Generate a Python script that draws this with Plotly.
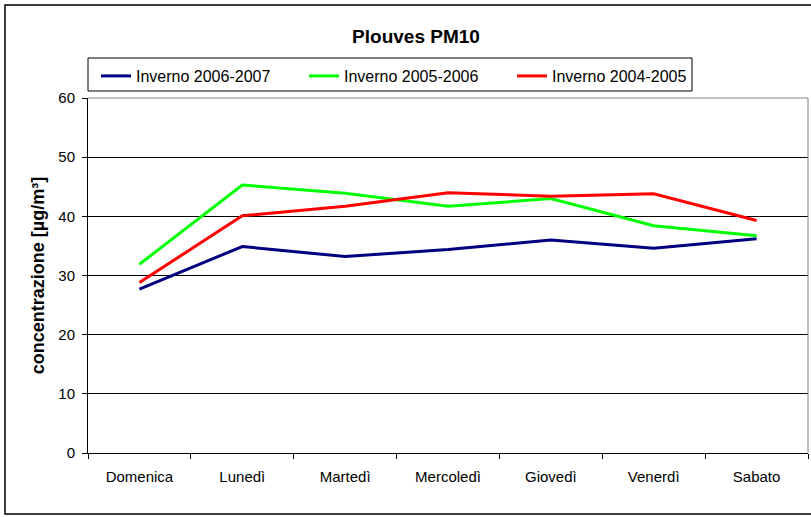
import plotly.graph_objects as go

days = ["Domenica", "Lunedì", "Martedì", "Mercoledì", "Giovedì", "Venerdì", "Sabato"]
inv_2006_2007 = [27.7, 34.9, 33.2, 34.4, 36.0, 34.6, 36.2]
inv_2005_2006 = [31.9, 45.3, 43.9, 41.7, 43.0, 38.4, 36.7]
inv_2004_2005 = [28.8, 40.1, 41.7, 44.0, 43.4, 43.8, 39.3]

series = [
    ("Inverno 2006-2007", inv_2006_2007, "#000080"),
    ("Inverno 2005-2006", inv_2005_2006, "#00FF00"),
    ("Inverno 2004-2005", inv_2004_2005, "#FF0000"),
]

font = "Liberation Sans, Arial, sans-serif"
fig = go.Figure()
for name, vals, col in series:
    fig.add_trace(go.Scatter(x=days, y=vals, name=name, mode="lines",
                             line=dict(color=col, width=3)))

L, R, T, B = 88, 3, 98, 64
W, H = 811, 517
pw, ph = W - L - R, H - T - B

def px(x):
    return (x - L) / pw

def py(y):
    return (H - B - y) / ph

fig.update_layout(
    width=W, height=H,
    margin=dict(l=L, r=R, t=T, b=B, autoexpand=False),
    paper_bgcolor="white", plot_bgcolor="white",
    font=dict(family=font, size=15, color="black"),
    title=dict(text="<b>Plouves PM10</b>", x=416 / W, xanchor="center",
               y=1 - 36 / H, yanchor="middle", font=dict(size=19)),
    showlegend=True,
    legend=dict(orientation="h", x=px(96), xanchor="left", y=py(59), yanchor="top",
                borderwidth=0, bgcolor="rgba(0,0,0,0)",
                font=dict(size=16), entrywidth=163, entrywidthmode="pixels",
                tracegroupgap=0),
    xaxis=dict(range=[-0.5, 6.5], showline=True, linecolor="black", linewidth=1,
               ticks="outside", tickson="boundaries", ticklen=5, tickcolor="black",
               showgrid=False, tickfont=dict(size=15), fixedrange=True,
               automargin=False, ticklabelstandoff=10),
    yaxis=dict(range=[0, 60], dtick=10, showline=True, linecolor="black",
               linewidth=1, ticks="outside", ticklen=5, tickcolor="black",
               showgrid=True, gridcolor="black", gridwidth=1, fixedrange=True,
               zeroline=False, tickfont=dict(size=15), automargin=False,
               ticklabelstandoff=4,
               title=dict(text="<b>concentrazione [µg/m³]</b>", standoff=9,
                          font=dict(size=18))),
    shapes=[
        dict(type="line", xref="paper", yref="paper", x0=0, x1=1, y0=1, y1=1,
             line=dict(color="#808080", width=1)),
        dict(type="line", xref="paper", yref="paper", x0=1, x1=1, y0=0, y1=1,
             line=dict(color="#808080", width=1)),
        dict(type="rect", xref="paper", yref="paper", x0=px(88), x1=px(692),
             y0=py(91), y1=py(58), line=dict(color="black", width=1),
             fillcolor="white", layer="below"),
        dict(type="rect", xref="paper", yref="paper", x0=px(5), x1=px(813),
             y0=py(514), y1=py(5), line=dict(color="black", width=1.5),
             layer="below"),
    ],
)

fig.write_html("out.html", config={"displayModeBar": False},
               post_script="document.body.style.margin='0';")
